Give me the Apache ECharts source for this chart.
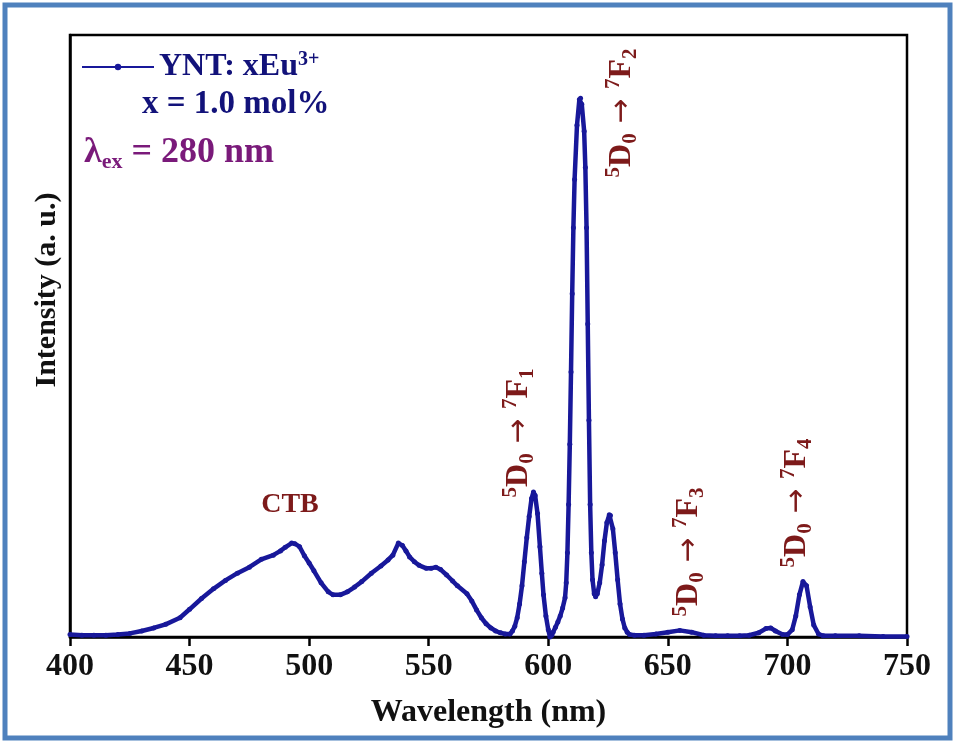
<!DOCTYPE html>
<html>
<head>
<meta charset="utf-8">
<title>YNT: xEu3+ emission</title>
<script src="https://cdn.jsdelivr.net/npm/echarts@6/dist/echarts.min.js"></script>
<style>
  html, body { margin: 0; padding: 0; background: #fff; }
  #chart { width: 955px; height: 742px; }
</style>
</head>
<body>
<div id="chart"></div>
<script>
// emission spectrum (intensity in arbitrary units, 0-100 = frame height)
const wavelength = [
  400, 405, 410, 415, 420, 425, 430, 435, 440, 446, 450, 455, 460, 465, 470, 475, 480, 485, 488, 490,
  492.7, 494, 496, 498, 500, 502, 505, 508, 510, 513, 516, 519, 522, 526, 530, 533, 535, 537.3, 539, 540.5,
  542, 544, 546, 549, 551, 553, 555, 557.5, 560, 562, 566, 568, 570, 572, 574, 576, 578, 580, 582, 584,
  585, 586, 587, 588, 589, 590, 591, 592, 593, 593.8, 594.5, 595.5, 596.5, 597.3, 598, 599, 600, 600.7, 601.5, 602,
  603, 604, 605, 606, 607, 607.5, 608, 608.5, 609, 609.5, 610, 610.5, 611, 612, 613, 613.5, 614, 615, 615.5, 616,
  616.5, 617, 617.5, 618, 618.5, 619.2, 619.8, 620.5, 621.5, 622.5, 623.5, 624.5, 625.5, 626, 627, 628, 629, 630, 631, 632,
  633, 634, 636, 640, 645, 650, 655, 660, 665, 670, 675, 680, 684, 688, 691, 693, 695, 698, 700, 702,
  703.5, 705, 706.5, 708, 709.5, 711, 713, 715, 720, 730, 740, 750
];
const intensity = [
  0.4, 0.3, 0.3, 0.3, 0.4, 0.6, 1.0, 1.5, 2.1, 3.2, 4.6, 6.4, 8.0, 9.4, 10.6, 11.6, 12.9, 13.6, 14.3, 14.9,
  15.6, 15.5, 15.0, 13.5, 12.3, 11.0, 9.0, 7.5, 7.0, 7.0, 7.5, 8.3, 9.2, 10.6, 11.8, 12.8, 13.6, 15.6, 15.2, 14.3,
  13.3, 12.5, 11.9, 11.4, 11.4, 11.6, 11.2, 10.3, 9.3, 8.5, 7.2, 6.0, 4.5, 3.2, 2.2, 1.5, 1.0, 0.7, 0.5, 0.5,
  1.0, 1.8, 3.2, 5.5, 8.5, 12.5, 16.5, 20.0, 23.0, 24.1, 23.5, 20.5, 15.0, 10.6, 7.0, 3.5, 1.2, 0.0, 0.3, 0.8,
  1.6, 2.5, 3.5, 4.8, 6.5, 9.0, 14, 22, 32, 44, 57, 68, 76, 85, 89.3, 89.5, 88.5, 84, 78, 68,
  52, 36, 22, 14, 9.5, 7.2, 6.7, 7.2, 9.0, 12.0, 16.0, 19.0, 20.3, 20.2, 18.0, 14.0, 9.5, 5.5, 3.0, 1.5,
  0.8, 0.4, 0.3, 0.3, 0.5, 0.8, 1.1, 0.8, 0.3, 0.2, 0.2, 0.2, 0.3, 0.7, 1.4, 1.5, 1.0, 0.4, 0.4, 1.2,
  3.5, 7.0, 9.2, 8.5, 5.0, 2.0, 0.5, 0.2, 0.2, 0.2, 0.1, 0.1
];
const xTicks = [400, 450, 500, 550, 600, 650, 700, 750];

const serif = '"Liberation Serif", "Times New Roman", "DejaVu Serif", serif';
const lineColor = '#18189a';
const noteColor = '#7d1a1a';
const blueText = '#12127a';
const purple = '#7a1a7a';

// rich styles for the 5D0 -> 7Fj labels (zrender text, so fill not color)
const noteRich = {
  m: { fontFamily: serif, fontWeight: 'bold', fontSize: 32, lineHeight: 38, fill: noteColor },
  arr: { fontFamily: '"DejaVu Sans", sans-serif', fontSize: 30, lineHeight: 38, fill: noteColor },
  sup: { fontFamily: serif, fontWeight: 'bold', fontSize: 21, lineHeight: 20, verticalAlign: 'top', fill: noteColor },
  sub: { fontFamily: serif, fontWeight: 'bold', fontSize: 21, lineHeight: 20, verticalAlign: 'bottom', fill: noteColor }
};
function transition(j) {
  return '{sup|5}{m|D}{sub|0}{arr| \u2192 }{sup|7}{m|F}{sub|' + j + '}';
}
function note(j, x, y) {
  return {
    type: 'text', x: x, y: y, rotation: Math.PI / 2, z: 10,
    style: { text: transition(j), rich: noteRich, align: 'center', verticalAlign: 'middle' }
  };
}

const chart = echarts.init(document.getElementById('chart'));
chart.setOption({
  animation: false,
  backgroundColor: '#fff',
  grid: {
    left: 70, right: 48, top: 35, bottom: 105,
    show: true, borderColor: '#000', borderWidth: 2.5
  },
  legend: {
    data: ['YNT'],
    left: 76, top: 45,
    itemWidth: 72, itemHeight: 8,
    formatter: () => '{a|YNT: xEu}{s|3+}',
    textStyle: {
      rich: {
        a: { fontFamily: serif, fontWeight: 'bold', fontSize: 32, lineHeight: 34, color: blueText },
        s: { fontFamily: serif, fontWeight: 'bold', fontSize: 20, lineHeight: 20, verticalAlign: 'top', color: blueText }
      }
    }
  },
  xAxis: {
    type: 'value', min: 400, max: 750, interval: 50,
    name: 'Wavelength (nm)', nameLocation: 'middle', nameGap: 60,
    nameTextStyle: { fontFamily: serif, fontWeight: 'bold', fontSize: 32, color: '#111' },
    axisLine: { lineStyle: { color: '#000', width: 2.5 } },
    axisTick: { show: true, length: 9, lineStyle: { color: '#000', width: 2.5 } },
    axisLabel: {
      margin: 14, fontFamily: serif, fontWeight: 'bold', fontSize: 32, color: '#111',
      customValues: xTicks
    },
    splitLine: { show: false }
  },
  yAxis: {
    type: 'value', min: 0, max: 100,
    name: 'Intensity (a. u.)', nameLocation: 'middle', nameGap: 8,
    nameTextStyle: { fontFamily: serif, fontWeight: 'bold', fontSize: 30, color: '#111', padding: [0, 0, 0, 92] },
    axisLine: { show: true, lineStyle: { color: '#000', width: 2.5 } },
    axisTick: { show: false },
    axisLabel: { show: false },
    splitLine: { show: false }
  },
  series: [{
    name: 'YNT',
    type: 'line',
    data: wavelength.map((w, i) => [w, intensity[i]]),
    showSymbol: true,
    symbol: 'circle',
    symbolSize: 5,
    itemStyle: { color: lineColor },
    lineStyle: { color: lineColor, width: 4.5 },
    z: 3
  }],
  graphic: [
    {
      type: 'rect', z: 20, silent: true,
      shape: { x: 5, y: 5, width: 945, height: 733 },
      style: { fill: 'none', stroke: '#4f81bd', lineWidth: 5 }
    },
    {
      type: 'text', x: 142, y: 104, z: 10,
      style: { text: 'x = 1.0 mol%', fontFamily: serif, fontWeight: 'bold', fontSize: 33, fill: blueText, verticalAlign: 'middle' }
    },
    {
      type: 'text', x: 84, y: 153, z: 10,
      style: {
        text: '{l|\u03bb}{s|ex}{l| = 280 nm}', verticalAlign: 'middle',
        rich: {
          l: { fontFamily: serif, fontWeight: 'bold', fontSize: 36, lineHeight: 40, fill: purple },
          s: { fontFamily: serif, fontWeight: 'bold', fontSize: 22, lineHeight: 20, verticalAlign: 'bottom', fill: purple }
        }
      }
    },
    {
      type: 'text', x: 290, y: 505, z: 10,
      style: { text: 'CTB', fontFamily: serif, fontWeight: 'bold', fontSize: 28, fill: noteColor, align: 'center', verticalAlign: 'middle' }
    },
    note(1, 519, 433),
    note(2, 622, 113),
    note(3, 689, 552),
    note(4, 797, 503)
  ]
});
</script>
</body>
</html>
